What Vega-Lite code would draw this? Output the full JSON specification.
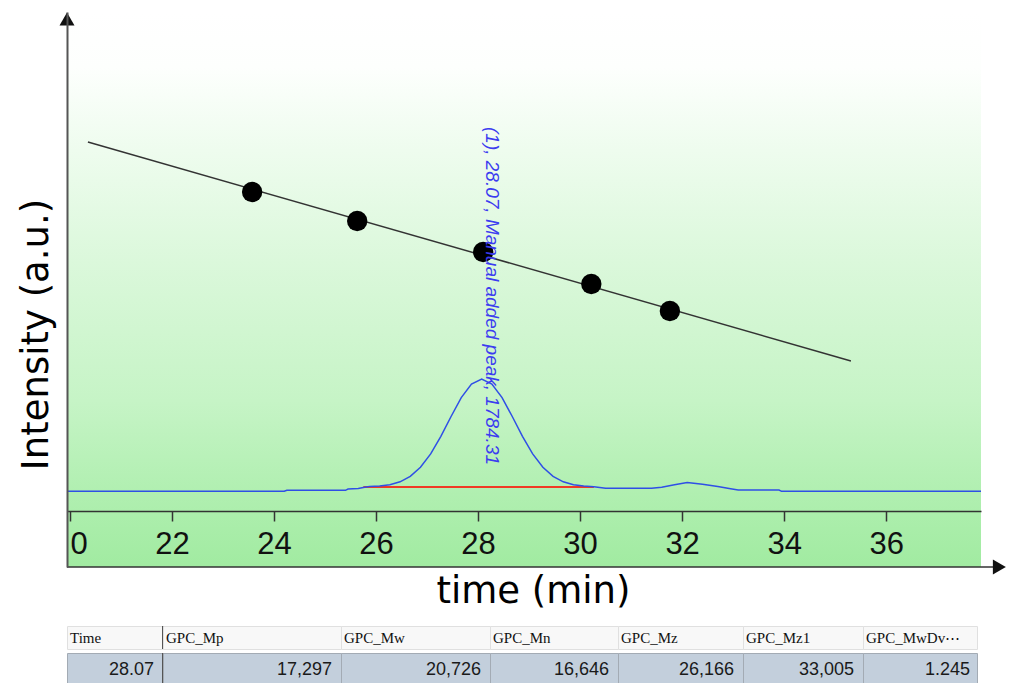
{
  "$schema": "https://vega.github.io/schema/vega-lite/v6.json",
  "background": "white",
  "padding": {"left": 17, "top": 12, "right": 0, "bottom": 0},
  "config": {"view": {"stroke": null}},
  "bounds": "flush",
  "spacing": 59,
  "datasets": {
    "chromatogram": [
      {"t": 19.94, "v": 75.7}, {"t": 24.2, "v": 75.7}, {"t": 24.25, "v": 76.7}, {"t": 25.4, "v": 76.7},
      {"t": 25.45, "v": 78}, {"t": 25.65, "v": 78.5}, {"t": 25.75, "v": 79.6}, {"t": 25.87, "v": 80.4},
      {"t": 26.07, "v": 81}, {"t": 26.27, "v": 82.3}, {"t": 26.47, "v": 85.2}, {"t": 26.67, "v": 90.6},
      {"t": 26.87, "v": 99.7}, {"t": 27.07, "v": 113.1}, {"t": 27.27, "v": 130.7}, {"t": 27.47, "v": 150.5},
      {"t": 27.67, "v": 169.4}, {"t": 27.87, "v": 183}, {"t": 28.07, "v": 188}, {"t": 28.27, "v": 183},
      {"t": 28.47, "v": 169.4}, {"t": 28.67, "v": 150.5}, {"t": 28.87, "v": 130.7}, {"t": 29.07, "v": 113.1},
      {"t": 29.27, "v": 99.7}, {"t": 29.47, "v": 90.6}, {"t": 29.67, "v": 85.2}, {"t": 29.87, "v": 82.3},
      {"t": 30.07, "v": 81}, {"t": 30.27, "v": 80.3}, {"t": 30.5, "v": 78.7}, {"t": 31.4, "v": 78.7},
      {"t": 31.6, "v": 79.8}, {"t": 31.85, "v": 82.2}, {"t": 32.1, "v": 84.5}, {"t": 32.4, "v": 82.7},
      {"t": 32.7, "v": 80.4}, {"t": 32.95, "v": 78.2}, {"t": 33.1, "v": 77}, {"t": 33.9, "v": 77},
      {"t": 33.95, "v": 75.7}, {"t": 37.86, "v": 75.7}
    ],
    "baseline": [{"t": 25.75, "v": 80}, {"t": 30.27, "v": 80}],
    "calibration_points": [
      {"t": 23.57, "v": 375}, {"t": 25.63, "v": 346}, {"t": 28.1, "v": 315}, {"t": 30.22, "v": 283}, {"t": 31.76, "v": 256}
    ],
    "calibration_fit": [{"t": 20.35, "v": 425}, {"t": 35.31, "v": 206}],
    "peak_label": [{"t": 28.07, "v": 440, "label": "(1), 28.07, Manual added peak, 1784.31"}],
    "table": [
      {"col": "Time", "header": "Time", "val": 28.07},
      {"col": "GPC_Mp", "header": "GPC_Mp", "val": 17297},
      {"col": "GPC_Mw", "header": "GPC_Mw", "val": 20726},
      {"col": "GPC_Mn", "header": "GPC_Mn", "val": 16646},
      {"col": "GPC_Mz", "header": "GPC_Mz", "val": 26166},
      {"col": "GPC_Mz1", "header": "GPC_Mz1", "val": 33005},
      {"col": "GPC_MwDv", "header": "GPC_MwDv⋯", "val": 1.245}
    ]
  },
  "vconcat": [
    {
      "width": 914,
      "height": 555,
      "view": {"stroke": null},
      "layer": [
        {
          "data": {"values": [{"region": "plot background"}]},
          "mark": {
            "type": "rect",
            "fill": {
              "gradient": "linear", "x1": 0, "y1": 0, "x2": 0, "y2": 1,
              "stops": [
                {"offset": 0, "color": "#ffffff"},
                {"offset": 0.1, "color": "#fdfffd"},
                {"offset": 0.25, "color": "#eefcee"},
                {"offset": 0.45, "color": "#dbf8db"},
                {"offset": 0.7, "color": "#c6f4c6"},
                {"offset": 0.87, "color": "#b0efb0"},
                {"offset": 1, "color": "#a1eba1"}
              ]
            }
          },
          "encoding": {
            "x": {"datum": 19.94, "type": "quantitative", "scale": {"domain": [19.94, 37.86], "nice": false, "zero": false}},
            "x2": {"datum": 37.86},
            "y": {"datum": 0, "type": "quantitative", "scale": {"domain": [0, 555], "nice": false, "zero": false}},
            "y2": {"datum": 555}
          }
        },
        {
          "data": {"name": "baseline"},
          "mark": {"type": "line", "color": "#f03a24", "strokeWidth": 2},
          "encoding": {
            "x": {"field": "t", "type": "quantitative", "title": "time (min)"},
            "y": {"field": "v", "type": "quantitative", "title": "Intensity (a.u.)"}
          }
        },
        {
          "data": {"name": "chromatogram"},
          "mark": {"type": "line", "color": "#2f4fe6", "strokeWidth": 1.5},
          "encoding": {
            "x": {
              "field": "t", "type": "quantitative", "title": "time (min)",
              "scale": {"domain": [19.94, 37.86], "nice": false, "zero": false},
              "axis": {
                "orient": "bottom", "offset": -56, "grid": false, "zindex": 1,
                "values": [20, 22, 24, 26, 28, 30, 32, 34, 36],
                "domainColor": "#333", "domainWidth": 1.5,
                "tickColor": "#333", "tickWidth": 1.5, "tickSize": 10,
                "labelFont": "Liberation Sans", "labelFontSize": 31, "labelColor": "#111",
                "labelPadding": 8, "labelFlush": false, "labelOverlap": false,
                "labelExpr": "datum.value == 20 ? '0' : datum.label",
                "labelAlign": {"condition": {"test": "datum.value == 20", "value": "left"}, "value": "center"},
                "titleFont": "DejaVu Sans", "titleFontSize": 37,
                "titleFontWeight": "normal", "titleColor": "#000",
                "titleX": 466, "titleY": 91, "titleBaseline": "alphabetic", "titleAlign": "center"
              }
            },
            "y": {
              "field": "v", "type": "quantitative", "title": "Intensity (a.u.)",
              "scale": {"domain": [0, 555], "nice": false, "zero": false},
              "axis": {
                "orient": "left", "grid": false, "ticks": false, "labels": false, "zindex": 1,
                "domainColor": "#555", "domainWidth": 2,
                "titleFont": "DejaVu Sans", "titleFontSize": 37,
                "titleFontWeight": "normal", "titleColor": "#000",
                "titleAngle": 270, "titleX": -20, "titleY": 322,
                "titleBaseline": "alphabetic", "titleAlign": "center"
              }
            }
          }
        },
        {
          "data": {"name": "calibration_fit"},
          "mark": {"type": "line", "color": "#333", "strokeWidth": 1.5},
          "encoding": {
            "x": {"field": "t", "type": "quantitative", "title": "time (min)"},
            "y": {"field": "v", "type": "quantitative", "title": "Intensity (a.u.)"}
          }
        },
        {
          "data": {"name": "calibration_points"},
          "mark": {"type": "circle", "color": "#000", "size": 415, "opacity": 1},
          "encoding": {
            "x": {"field": "t", "type": "quantitative", "title": "time (min)"},
            "y": {"field": "v", "type": "quantitative", "title": "Intensity (a.u.)"}
          }
        },
        {
          "data": {"name": "peak_label"},
          "mark": {
            "type": "text", "angle": 90, "align": "left", "baseline": "bottom",
            "font": "Liberation Sans", "fontStyle": "italic", "fontSize": 19, "color": "#3c3cf0"
          },
          "encoding": {
            "x": {"field": "t", "type": "quantitative", "title": "time (min)"},
            "y": {"field": "v", "type": "quantitative", "title": "Intensity (a.u.)"},
            "text": {"field": "label"}
          }
        },
        {
          "data": {"values": [{"part": "x arrow"}]},
          "mark": {"type": "rule", "color": "#333", "strokeWidth": 1.5},
          "encoding": {
            "x": {"datum": 19.94, "type": "quantitative"},
            "x2": {"datum": 38.15},
            "y": {"datum": 0, "type": "quantitative"}
          }
        },
        {
          "data": {"values": [{"part": "x arrow head"}]},
          "mark": {"type": "point", "shape": "triangle-right", "filled": true, "color": "#111", "size": 225, "opacity": 1},
          "encoding": {
            "x": {"datum": 38.22, "type": "quantitative"},
            "y": {"datum": 0, "type": "quantitative"}
          }
        },
        {
          "data": {"values": [{"part": "y arrow head"}]},
          "mark": {"type": "point", "shape": "triangle-up", "filled": true, "color": "#111", "size": 225, "opacity": 1},
          "encoding": {
            "x": {"datum": 19.94, "type": "quantitative"},
            "y": {"datum": 548, "type": "quantitative"}
          }
        }
      ]
    },
    {
      "bounds": "full",
      "spacing": 0,
      "vconcat": [
        {
          "bounds": "flush",
          "spacing": 0,
          "hconcat": [
            {"width": 96, "height": 23, "view": {"fill": "#f8f8f8", "stroke": "#e0e0e0"},
             "data": {"name": "table"}, "transform": [{"filter": "datum.col === 'Time'"}],
             "layer": [
               {"mark": {"type": "text", "align": "left", "baseline": "middle", "dx": 3, "font": "Liberation Serif", "fontSize": 15, "color": "#111"},
                "encoding": {"x": {"field": "header", "type": "nominal", "axis": null, "bandPosition": 0, "scale": {"type": "band", "paddingInner": 0, "paddingOuter": 0}}, "text": {"field": "header"}}},
               {"mark": {"type": "rule", "color": "#555", "strokeWidth": 2},
                "encoding": {"x": {"field": "header", "type": "nominal", "axis": null, "bandPosition": 1, "scale": {"type": "band", "paddingInner": 0, "paddingOuter": 0}}}}
             ]},
            {"width": 178, "height": 23, "view": {"fill": "#f8f8f8", "stroke": "#e0e0e0"},
             "data": {"name": "table"}, "transform": [{"filter": "datum.col === 'GPC_Mp'"}],
             "mark": {"type": "text", "align": "left", "baseline": "middle", "dx": 3, "font": "Liberation Serif", "fontSize": 15, "color": "#111"},
             "encoding": {"x": {"field": "header", "type": "nominal", "axis": null, "bandPosition": 0, "scale": {"type": "band", "paddingInner": 0, "paddingOuter": 0}}, "text": {"field": "header"}}},
            {"width": 149, "height": 23, "view": {"fill": "#f8f8f8", "stroke": "#e0e0e0"},
             "data": {"name": "table"}, "transform": [{"filter": "datum.col === 'GPC_Mw'"}],
             "mark": {"type": "text", "align": "left", "baseline": "middle", "dx": 3, "font": "Liberation Serif", "fontSize": 15, "color": "#111"},
             "encoding": {"x": {"field": "header", "type": "nominal", "axis": null, "bandPosition": 0, "scale": {"type": "band", "paddingInner": 0, "paddingOuter": 0}}, "text": {"field": "header"}}},
            {"width": 128, "height": 23, "view": {"fill": "#f8f8f8", "stroke": "#e0e0e0"},
             "data": {"name": "table"}, "transform": [{"filter": "datum.col === 'GPC_Mn'"}],
             "mark": {"type": "text", "align": "left", "baseline": "middle", "dx": 3, "font": "Liberation Serif", "fontSize": 15, "color": "#111"},
             "encoding": {"x": {"field": "header", "type": "nominal", "axis": null, "bandPosition": 0, "scale": {"type": "band", "paddingInner": 0, "paddingOuter": 0}}, "text": {"field": "header"}}},
            {"width": 125, "height": 23, "view": {"fill": "#f8f8f8", "stroke": "#e0e0e0"},
             "data": {"name": "table"}, "transform": [{"filter": "datum.col === 'GPC_Mz'"}],
             "mark": {"type": "text", "align": "left", "baseline": "middle", "dx": 3, "font": "Liberation Serif", "fontSize": 15, "color": "#111"},
             "encoding": {"x": {"field": "header", "type": "nominal", "axis": null, "bandPosition": 0, "scale": {"type": "band", "paddingInner": 0, "paddingOuter": 0}}, "text": {"field": "header"}}},
            {"width": 120, "height": 23, "view": {"fill": "#f8f8f8", "stroke": "#e0e0e0"},
             "data": {"name": "table"}, "transform": [{"filter": "datum.col === 'GPC_Mz1'"}],
             "mark": {"type": "text", "align": "left", "baseline": "middle", "dx": 3, "font": "Liberation Serif", "fontSize": 15, "color": "#111"},
             "encoding": {"x": {"field": "header", "type": "nominal", "axis": null, "bandPosition": 0, "scale": {"type": "band", "paddingInner": 0, "paddingOuter": 0}}, "text": {"field": "header"}}},
            {"width": 114, "height": 23, "view": {"fill": "#f8f8f8", "stroke": "#e0e0e0"},
             "data": {"name": "table"}, "transform": [{"filter": "datum.col === 'GPC_MwDv'"}],
             "mark": {"type": "text", "align": "left", "baseline": "middle", "dx": 3, "font": "Liberation Serif", "fontSize": 15, "color": "#111"},
             "encoding": {"x": {"field": "header", "type": "nominal", "axis": null, "bandPosition": 0, "scale": {"type": "band", "paddingInner": 0, "paddingOuter": 0}}, "text": {"field": "header"}}}
          ]
        },
        {
          "bounds": "flush",
          "spacing": 0,
          "hconcat": [
            {"width": 96, "height": 33, "view": {"fill": "#c3cfdc", "stroke": "#a3abb4"},
             "data": {"name": "table"}, "transform": [{"filter": "datum.col === 'Time'"}],
             "layer": [
               {"mark": {"type": "text", "align": "right", "baseline": "middle", "dx": -9, "font": "Liberation Sans", "fontSize": 18, "color": "#1a1a1a"},
                "encoding": {"x": {"field": "col", "type": "nominal", "axis": null, "bandPosition": 1, "scale": {"type": "band", "paddingInner": 0, "paddingOuter": 0}}, "text": {"field": "val", "type": "quantitative", "format": ".2f"}}},
               {"mark": {"type": "rule", "color": "#555", "strokeWidth": 2},
                "encoding": {"x": {"field": "col", "type": "nominal", "axis": null, "bandPosition": 1, "scale": {"type": "band", "paddingInner": 0, "paddingOuter": 0}}}}
             ]},
            {"width": 178, "height": 33, "view": {"fill": "#c3cfdc", "stroke": "#a3abb4"},
             "data": {"name": "table"}, "transform": [{"filter": "datum.col === 'GPC_Mp'"}],
             "mark": {"type": "text", "align": "right", "baseline": "middle", "dx": -9, "font": "Liberation Sans", "fontSize": 18, "color": "#1a1a1a"},
             "encoding": {"x": {"field": "col", "type": "nominal", "axis": null, "bandPosition": 1, "scale": {"type": "band", "paddingInner": 0, "paddingOuter": 0}}, "text": {"field": "val", "type": "quantitative", "format": ",d"}}},
            {"width": 149, "height": 33, "view": {"fill": "#c3cfdc", "stroke": "#a3abb4"},
             "data": {"name": "table"}, "transform": [{"filter": "datum.col === 'GPC_Mw'"}],
             "mark": {"type": "text", "align": "right", "baseline": "middle", "dx": -9, "font": "Liberation Sans", "fontSize": 18, "color": "#1a1a1a"},
             "encoding": {"x": {"field": "col", "type": "nominal", "axis": null, "bandPosition": 1, "scale": {"type": "band", "paddingInner": 0, "paddingOuter": 0}}, "text": {"field": "val", "type": "quantitative", "format": ",d"}}},
            {"width": 128, "height": 33, "view": {"fill": "#c3cfdc", "stroke": "#a3abb4"},
             "data": {"name": "table"}, "transform": [{"filter": "datum.col === 'GPC_Mn'"}],
             "mark": {"type": "text", "align": "right", "baseline": "middle", "dx": -9, "font": "Liberation Sans", "fontSize": 18, "color": "#1a1a1a"},
             "encoding": {"x": {"field": "col", "type": "nominal", "axis": null, "bandPosition": 1, "scale": {"type": "band", "paddingInner": 0, "paddingOuter": 0}}, "text": {"field": "val", "type": "quantitative", "format": ",d"}}},
            {"width": 125, "height": 33, "view": {"fill": "#c3cfdc", "stroke": "#a3abb4"},
             "data": {"name": "table"}, "transform": [{"filter": "datum.col === 'GPC_Mz'"}],
             "mark": {"type": "text", "align": "right", "baseline": "middle", "dx": -9, "font": "Liberation Sans", "fontSize": 18, "color": "#1a1a1a"},
             "encoding": {"x": {"field": "col", "type": "nominal", "axis": null, "bandPosition": 1, "scale": {"type": "band", "paddingInner": 0, "paddingOuter": 0}}, "text": {"field": "val", "type": "quantitative", "format": ",d"}}},
            {"width": 120, "height": 33, "view": {"fill": "#c3cfdc", "stroke": "#a3abb4"},
             "data": {"name": "table"}, "transform": [{"filter": "datum.col === 'GPC_Mz1'"}],
             "mark": {"type": "text", "align": "right", "baseline": "middle", "dx": -9, "font": "Liberation Sans", "fontSize": 18, "color": "#1a1a1a"},
             "encoding": {"x": {"field": "col", "type": "nominal", "axis": null, "bandPosition": 1, "scale": {"type": "band", "paddingInner": 0, "paddingOuter": 0}}, "text": {"field": "val", "type": "quantitative", "format": ",d"}}},
            {"width": 114, "height": 33, "view": {"fill": "#c3cfdc", "stroke": "#a3abb4"},
             "data": {"name": "table"}, "transform": [{"filter": "datum.col === 'GPC_MwDv'"}],
             "mark": {"type": "text", "align": "right", "baseline": "middle", "dx": -7, "font": "Liberation Sans", "fontSize": 18, "color": "#1a1a1a"},
             "encoding": {"x": {"field": "col", "type": "nominal", "axis": null, "bandPosition": 1, "scale": {"type": "band", "paddingInner": 0, "paddingOuter": 0}}, "text": {"field": "val", "type": "quantitative", "format": ".3f"}}}
          ]
        }
      ]
    }
  ]
}
